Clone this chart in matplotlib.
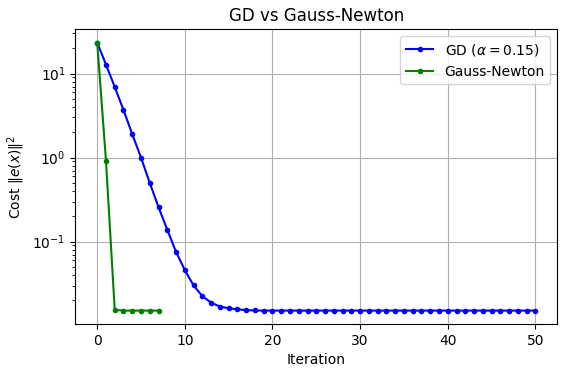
import numpy as np
import matplotlib
matplotlib.use("Agg")
import matplotlib.pyplot as plt

gd_cost = [23.3, 12.8, 6.93, 3.68, 1.90, 1.00, 0.498, 0.257, 0.138, 0.0752,
           0.0458, 0.0301, 0.0224, 0.0188, 0.01686, 0.0161, 0.01566, 0.0153,
           0.01515, 0.0151] + [0.0151] * 31
gn_cost = [23.3, 0.92, 0.01545, 0.0151, 0.0151, 0.0151, 0.0151, 0.0151]

gd_iter = np.arange(len(gd_cost))
gn_iter = np.arange(len(gn_cost))

fig = plt.figure(figsize=(5.66, 3.74), dpi=100)
ax = fig.add_axes([75.3 / 566, 50 / 374, (557.3 - 75.3) / 566, (324 - 29.3) / 374])
ax.semilogy(gd_iter, gd_cost, 'b.-', label=r'GD ($\alpha=0.15$)')
ax.semilogy(gn_iter, gn_cost, 'g.-', label='Gauss-Newton')
ax.set_xlabel('Iteration')
ax.set_ylabel(r'Cost $\|e(x)\|^2$')
ax.set_title('GD vs Gauss-Newton')
ax.grid(True)
ax.legend(loc='upper right')
fig.savefig('out.png', dpi=100)
